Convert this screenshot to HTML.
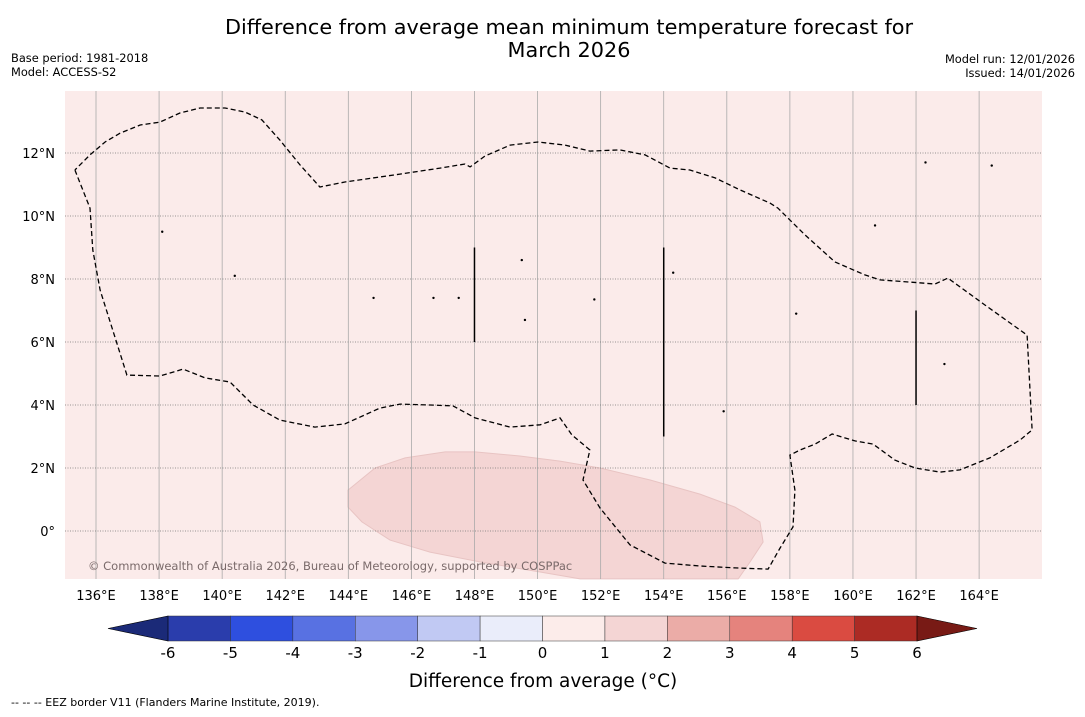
<!DOCTYPE html>
<html><head><meta charset="utf-8"><style>
body{margin:0;width:1085px;height:713px;background:#fff;overflow:hidden;font-family:"DejaVu Sans","Liberation Sans",sans-serif}
</style></head><body>
<svg id="svg" width="1085" height="713" xmlns="http://www.w3.org/2000/svg" font-family="DejaVu Sans, Liberation Sans, sans-serif">
<text x="569" y="34" text-anchor="middle" font-size="20.8">Difference from average mean minimum temperature forecast for</text>
<text x="569" y="57" text-anchor="middle" font-size="20.8">March 2026</text>
<text x="11" y="62" font-size="11.4">Base period: 1981-2018</text>
<text x="11" y="76" font-size="11.4">Model: ACCESS-S2</text>
<text x="1075" y="63" font-size="11.4" text-anchor="end">Model run: 12/01/2026</text>
<text x="1075" y="77" font-size="11.4" text-anchor="end">Issued: 14/01/2026</text>
<rect x="65" y="91" width="977" height="488" fill="#fbebea"/>
<g id="map"></g>
<text x="88" y="570" font-size="11.5" fill="#7a6a6a">© Commonwealth of Australia 2026, Bureau of Meteorology, supported by COSPPac</text>
<g id="cbar"></g>
<text x="543" y="687" text-anchor="middle" font-size="18.5">Difference from average (°C)</text>
<text x="11" y="706" font-size="11">--  --  -- EEZ border V11 (Flanders Marine Institute, 2019).</text>
</svg>
<script>
const lonTicks=[136,138,140,142,144,146,148,150,152,154,156,158,160,162,164];
const latTicks=[0,2,4,6,8,10,12];
const eezLon=[135.33,135.81,135.90,136.13,136.98,138.03,138.76,139.46,140.25,140.98,141.83,142.94,143.89,145.0,145.64,146.59,147.32,148.02,149.13,150.08,150.71,151.09,151.66,151.44,151.98,152.93,154.04,155.15,156.26,157.31,157.69,158.10,158.16,158.0,158.32,158.80,159.34,160.06,160.64,161.33,161.97,162.76,163.39,164.34,165.30,165.68,165.52,164.19,163.01,162.60,161.81,160.86,160.38,159.43,158.48,157.62,157.37,156.42,155.63,154.83,154.20,153.41,152.61,151.66,150.87,150.01,149.13,148.33,147.86,147.70,146.91,145.64,143.89,143.10,142.47,141.83,141.26,140.72,140.09,139.30,138.66,138.03,137.40,136.76,136.29,135.81,135.33];
const eezLat=[11.46,10.25,8.92,7.65,4.95,4.92,5.14,4.86,4.73,4.0,3.52,3.30,3.40,3.90,4.03,4.0,3.97,3.59,3.30,3.37,3.59,3.05,2.57,1.62,0.73,-0.44,-1.02,-1.11,-1.17,-1.21,-0.54,0.13,1.30,2.41,2.57,2.76,3.08,2.86,2.76,2.25,2.0,1.87,1.94,2.32,2.89,3.21,6.22,7.17,8.03,7.84,7.90,7.97,8.13,8.54,9.40,10.25,10.41,10.83,11.21,11.46,11.52,11.94,12.10,12.06,12.25,12.35,12.25,11.90,11.56,11.65,11.52,11.33,11.08,10.92,11.62,12.41,13.05,13.30,13.43,13.43,13.27,12.98,12.89,12.63,12.35,11.94,11.46];
const patchLon=[143.99,144.85,145.80,147.07,148.02,149.44,150.71,151.98,153.57,155.15,156.26,157.05,157.15,156.74,156.36,151.35,150.08,148.17,146.59,145.32,144.43,143.99];
const patchLat=[1.30,2.0,2.32,2.51,2.51,2.38,2.22,2.0,1.62,1.17,0.76,0.29,-0.35,-0.98,-1.52,-1.52,-1.30,-0.98,-0.67,-0.29,0.29,0.76];
const segLon=[148,154,162];
const segLat1=[9,9,7];
const segLat2=[6,3,4];
const isleLon=[138.1,140.4,144.8,147.5,149.5,151.8,154.3,155.9,158.2,160.7,162.9,162.3,164.4,149.6,146.7];
const isleLat=[9.5,8.1,7.4,7.4,8.6,7.35,8.2,3.8,6.9,9.7,5.3,11.7,11.6,6.7,7.4];
const cbVals=[-6,-5,-4,-3,-2,-1,0,1,2,3,4,5,6];
const cbColors=["#2a3dac","#2e4fdf","#5871e2","#8796ea","#c1c9f3","#eaedfa","#fcecea","#f4d5d4","#ebaca7","#e5837d","#da4b41","#ac2b24"];
const NS="http://www.w3.org/2000/svg";
const X=lon=>96+(lon-136)*31.54, Y=lat=>531-lat*31.5;
const map=document.getElementById('map');
function mk(t,a,p){const e=document.createElementNS(NS,t);for(const k in a)e.setAttribute(k,a[k]);(p||map).appendChild(e);return e;}
const pts=(lo,la)=>lo.map((v,i)=>X(v).toFixed(1)+","+Y(la[i]).toFixed(1)).join(" ");
let p=mk('polygon',{points:pts(patchLon,patchLat),fill:'#f4d5d4',stroke:'#e8c4c3','stroke-width':1});


lonTicks.forEach(l=>{
 let g=mk('line',{x1:X(l),x2:X(l),y1:91,y2:579,stroke:'#aaa','stroke-width':0.8});
 
 
 let t=mk('text',{x:X(l),y:600,'text-anchor':'middle','font-size':13});t.textContent=l+'°E';
 
 
});
latTicks.forEach(l=>{
 let g=mk('line',{x1:65,x2:1042,y1:Y(l),y2:Y(l),stroke:'#777','stroke-width':0.8,'stroke-dasharray':'1,1.5'});
 
 
 let t=mk('text',{x:55,y:Y(l)+5,'text-anchor':'end','font-size':13});t.textContent=l+'°'+(l>0?'N':'');
 
 
});
let e=mk('polyline',{points:pts(eezLon,eezLat),fill:'none',stroke:'#000','stroke-width':1.3,'stroke-dasharray':'5,3'});


segLon.forEach((l,i)=>{
 let s=mk('line',{x1:X(l),x2:X(l),y1:Y(segLat1[i]),y2:Y(segLat2[i]),stroke:'#000','stroke-width':1.5});
 
 
});
isleLon.forEach((l,i)=>{
 let c=mk('circle',{cx:X(l),cy:Y(isleLat[i]),r:1.2,fill:'#000'});
 
 
});
const cb=document.getElementById('cbar');
const CX=v=>168+(v+6)*62.42;
cbColors.forEach((c,i)=>{
 let r=mk('rect',{x:CX(cbVals[i]),y:616,width:62.42,height:25,fill:c,stroke:'#333','stroke-width':0.5},cb);
 
 
});
let lt=mk('polygon',{points:`108,628.5 168,616 168,641`,fill:'#1b2a78',stroke:'#000','stroke-width':0.6},cb);


let rt=mk('polygon',{points:`917,616 977,628.5 917,641`,fill:'#781a15',stroke:'#000','stroke-width':0.6},cb);


cbVals.forEach(v=>{
 let t=mk('text',{x:CX(v),y:658,'text-anchor':'middle','font-size':15},cb);t.textContent=v;
 
 
});
</script>
</body></html>
